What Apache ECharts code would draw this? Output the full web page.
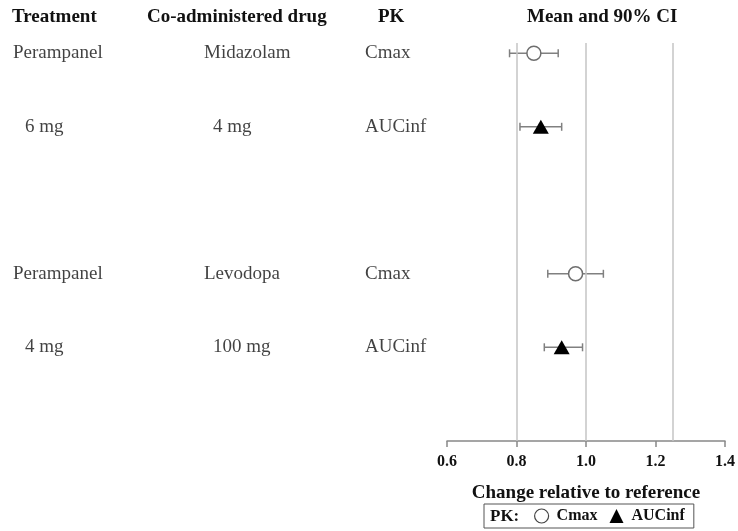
<!DOCTYPE html>
<html>
<head>
<meta charset="utf-8">
<script src="https://cdn.jsdelivr.net/npm/echarts@6/dist/echarts.min.js"></script>
<style>
  html, body { margin: 0; padding: 0; background: #fff; }
  #chart { width: 738px; height: 531px; }
</style>
</head>
<body>
<div id="chart"></div>
<script>
// Study arms (one block per interaction study)
const treatmentNames = ['Perampanel', 'Perampanel'];
const treatmentDoses = ['6 mg', '4 mg'];
const drugNames = ['Midazolam', 'Levodopa'];
const drugDoses = ['4 mg', '100 mg'];
const pkLabels = ['Cmax', 'AUCinf'];

// Row slots on the vertical axis: Cmax row and AUCinf row of each study
const cmaxRows = [0, 3];
const aucRows = [1, 4];

// Geometric mean ratios and 90% confidence limits
const cmaxMean = [0.85, 0.97];
const cmaxLow = [0.78, 0.89];
const cmaxHigh = [0.92, 1.05];
const aucMean = [0.87, 0.93];
const aucLow = [0.81, 0.88];
const aucHigh = [0.93, 0.99];

// Reference boundaries
const refLines = [0.8, 1.0, 1.25];

// X axis ticks
const xTicks = [0.6, 0.8, 1.0, 1.2, 1.4];

const serif = '"Liberation Serif", "Times New Roman", serif';
const Y_MIN = -0.14, Y_MAX = 5.275;

// Text column placement in the table grid (pixel-like units)
const COL_TREAT_NAME = 13, COL_TREAT_DOSE = 25;
const COL_DRUG_NAME = 204, COL_DRUG_DOSE = 213;
const COL_PK = 365;

const tableText = [];
for (let i = 0; i < treatmentNames.length; i++) {
  tableText.push([COL_TREAT_NAME, cmaxRows[i], treatmentNames[i]]);
  tableText.push([COL_TREAT_DOSE, aucRows[i], treatmentDoses[i]]);
  tableText.push([COL_DRUG_NAME, cmaxRows[i], drugNames[i]]);
  tableText.push([COL_DRUG_DOSE, aucRows[i], drugDoses[i]]);
  tableText.push([COL_PK, cmaxRows[i], pkLabels[0]]);
  tableText.push([COL_PK, aucRows[i], pkLabels[1]]);
}

const ciData = [];
for (let i = 0; i < cmaxMean.length; i++) {
  ciData.push([cmaxLow[i], cmaxHigh[i], cmaxRows[i]]);
  ciData.push([aucLow[i], aucHigh[i], aucRows[i]]);
}

const chart = echarts.init(document.getElementById('chart'));

chart.setOption({
  animation: false,
  backgroundColor: '#fff',
  textStyle: { fontFamily: serif },
  grid: [
    { left: 447, right: 11, top: 43, bottom: 90 },
    { left: 0, width: 440, top: 43, bottom: 90 }
  ],
  xAxis: [
    {
      gridIndex: 0,
      type: 'value',
      min: 0.6, max: 1.4, interval: 0.2,
      axisLine: { show: true, onZero: false, lineStyle: { color: '#888', width: 1.5 } },
      axisTick: { show: true, length: 6, lineStyle: { color: '#888', width: 1.5 } },
      splitLine: { show: false },
      axisLabel: {
        margin: 13,
        color: '#111',
        fontFamily: serif,
        fontWeight: 'bold',
        fontSize: 16,
        formatter: v => {
          const t = xTicks.find(x => Math.abs(x - v) < 1e-9);
          return t === undefined ? '' : t.toFixed(1);
        }
      },
      name: 'Change relative to reference',
      nameLocation: 'middle',
      nameGap: 43,
      nameTextStyle: { color: '#111', fontFamily: serif, fontWeight: 'bold', fontSize: 19 }
    },
    {
      gridIndex: 1,
      type: 'value',
      min: 0, max: 440,
      show: false
    }
  ],
  yAxis: [
    { gridIndex: 0, type: 'value', inverse: true, min: Y_MIN, max: Y_MAX, show: false },
    { gridIndex: 1, type: 'value', inverse: true, min: Y_MIN, max: Y_MAX, show: false }
  ],
  legend: {
    left: 484,
    top: 504,
    padding: [4, 9, 4, 50],
    borderColor: '#555',
    borderWidth: 1,
    itemWidth: 14,
    itemHeight: 14,
    itemGap: 12,
    textStyle: { color: '#111', fontFamily: serif, fontWeight: 'bold', fontSize: 16, padding: [0, 0, 0, 3] },
    data: [
      { name: 'Cmax', icon: 'circle', itemStyle: { color: '#fff', borderColor: '#444', borderWidth: 1.2 } },
      { name: 'AUCinf', icon: 'triangle', itemStyle: { color: '#000', borderWidth: 0 } }
    ]
  },
  graphic: [
    { type: 'text', left: 12, top: 8, style: { text: 'Treatment', font: 'bold 19px ' + serif, fill: '#111' } },
    { type: 'text', left: 147, top: 8, style: { text: 'Co-administered drug', font: 'bold 19px ' + serif, fill: '#111' } },
    { type: 'text', left: 378, top: 8, style: { text: 'PK', font: 'bold 19px ' + serif, fill: '#111' } },
    { type: 'text', left: 527, top: 8, style: { text: 'Mean and 90% CI', font: 'bold 19px ' + serif, fill: '#111' } },
    { type: 'text', left: 490, top: 508, style: { text: 'PK:', font: 'bold 17px ' + serif, fill: '#111' } }
  ],
  series: [
    {
      // reference boundaries
      type: 'line',
      xAxisIndex: 0, yAxisIndex: 0,
      data: [],
      silent: true,
      markLine: {
        silent: true,
        symbol: 'none',
        label: { show: false },
        lineStyle: { color: '#c4c4c4', width: 1.5, type: 'solid' },
        data: refLines.map(v => ({ xAxis: v }))
      }
    },
    {
      // 90% confidence intervals with end caps
      type: 'custom',
      xAxisIndex: 0, yAxisIndex: 0,
      silent: true,
      data: ciData,
      renderItem: (params, api) => {
        const a = api.coord([api.value(0), api.value(2)]);
        const b = api.coord([api.value(1), api.value(2)]);
        const cap = 4;
        const style = { stroke: '#808080', lineWidth: 1.5 };
        return {
          type: 'group',
          children: [
            { type: 'line', shape: { x1: a[0], y1: a[1], x2: b[0], y2: b[1] }, style },
            { type: 'line', shape: { x1: a[0], y1: a[1] - cap, x2: a[0], y2: a[1] + cap }, style },
            { type: 'line', shape: { x1: b[0], y1: b[1] - cap, x2: b[0], y2: b[1] + cap }, style }
          ]
        };
      }
    },
    {
      name: 'Cmax',
      type: 'scatter',
      xAxisIndex: 0, yAxisIndex: 0,
      symbol: 'circle',
      symbolSize: 14,
      itemStyle: { color: '#fff', borderColor: '#6e6e6e', borderWidth: 1.5, opacity: 1 },
      data: cmaxMean.map((v, i) => [v, cmaxRows[i]]),
      z: 5
    },
    {
      name: 'AUCinf',
      type: 'scatter',
      xAxisIndex: 0, yAxisIndex: 0,
      symbol: 'triangle',
      symbolSize: [16, 14],
      itemStyle: { color: '#000', opacity: 1 },
      data: aucMean.map((v, i) => [v, aucRows[i]]),
      z: 5
    },
    {
      // table text
      type: 'scatter',
      xAxisIndex: 1, yAxisIndex: 1,
      silent: true,
      symbolSize: 0,
      data: tableText,
      label: {
        show: true,
        position: 'right',
        distance: 0,
        align: 'left',
        verticalAlign: 'middle',
        color: '#111',
        fontFamily: serif,
        fontSize: 19,
        formatter: p => p.value[2]
      }
    }
  ]
});
</script>
</body>
</html>
